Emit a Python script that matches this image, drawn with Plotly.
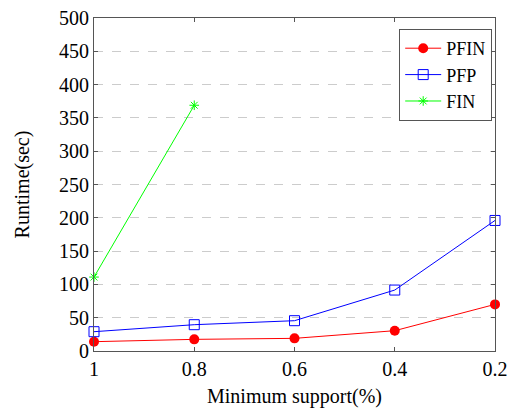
import plotly.graph_objects as go

support = [1, 0.8, 0.6, 0.4, 0.2]
x_ticks = [1, 0.8, 0.6, 0.4, 0.2]
x_ticklabels = ["1", "0.8", "0.6", "0.4", "0.2"]
pfin = [14, 17.5, 19, 30.5, 70]
pfp = [29, 39.5, 45.5, 91.5, 196]
fin_support = [1, 0.8]
fin = [111, 369]
y_ticks = list(range(0, 501, 50))

font = "Liberation Serif"
fig = go.Figure()
fig.add_trace(go.Scatter(x=support, y=pfin, name="PFIN", mode="lines+markers",
                         line=dict(color="#ff0000", width=1),
                         marker=dict(symbol="circle", size=10, color="#ff0000"),
                         cliponaxis=False))
fig.add_trace(go.Scatter(x=support, y=pfp, name="PFP", mode="lines+markers",
                         line=dict(color="#0000ff", width=1),
                         marker=dict(symbol="square-open", size=10, color="#0000ff",
                                     line=dict(width=1, color="#0000ff")),
                         cliponaxis=False))
fig.add_trace(go.Scatter(x=fin_support, y=fin, name="FIN", mode="lines+markers",
                         line=dict(color="#00ff00", width=1),
                         marker=dict(symbol="asterisk-open", size=8, color="#00ff00",
                                     line=dict(width=1, color="#00ff00")),
                         cliponaxis=False))

axis_common = dict(showline=True, linecolor="#555555", linewidth=1, mirror="allticks",
                   ticks="inside", ticklen=4, tickcolor="#555555",
                   ticklabeloverflow="allow",
                   tickfont=dict(family=font, size=20, color="black"), zeroline=False)
fig.update_layout(
    width=507, height=408,
    margin=dict(l=94, r=12, t=18, b=57),
    paper_bgcolor="white", plot_bgcolor="white",
    font=dict(family=font, color="black"),
    xaxis=dict(range=[1, 0.2], tickvals=x_ticks, ticktext=x_ticklabels, showgrid=False,
               automargin=False,
               title=dict(text="Minimum support(%)", font=dict(family=font, size=20)),
               **axis_common),
    yaxis=dict(range=[0, 500], tickvals=y_ticks, showgrid=True, gridcolor="#cccccc",
               griddash="dash", gridwidth=1, automargin="left",
               title=dict(text="Runtime(sec)", font=dict(family=font, size=20), standoff=24),
               **axis_common),
    legend=dict(x=0.993, y=0.967, xanchor="right", yanchor="top",
                bordercolor="#555555", borderwidth=1, bgcolor="white",
                font=dict(family=font, size=18), itemwidth=36, tracegroupgap=0),
    showlegend=True,
)
fig.write_html("out.html")
